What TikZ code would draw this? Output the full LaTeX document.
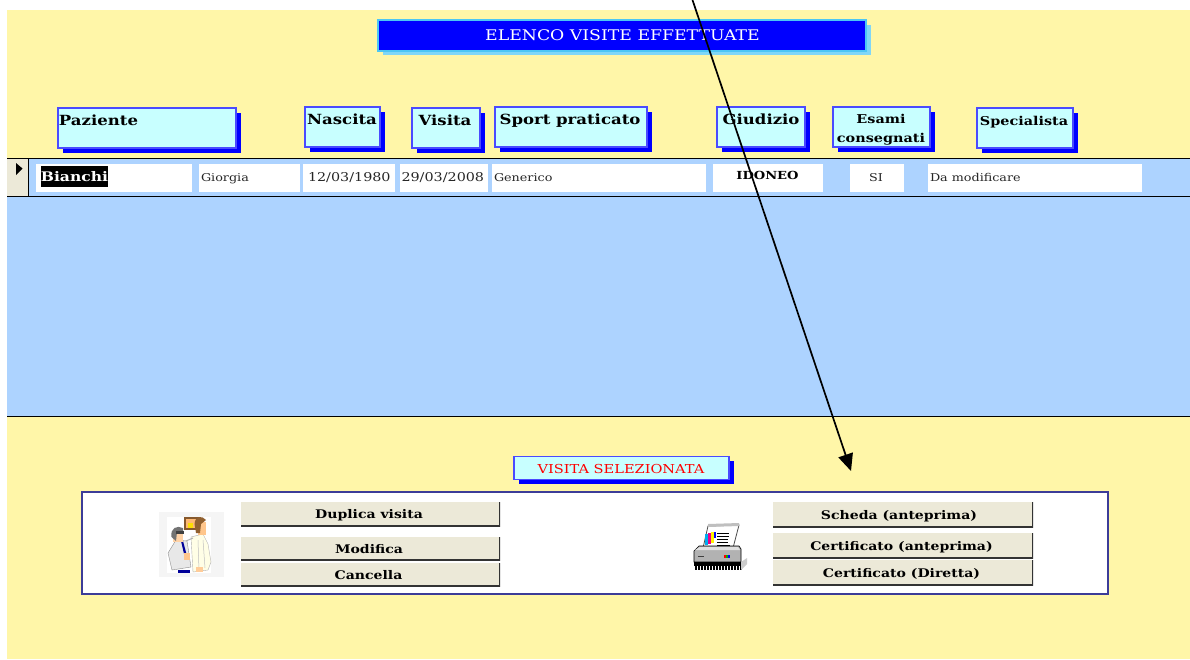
\documentclass[tikz,border=0pt]{standalone}
\usepackage{fontspec}
\setmainfont{DejaVu Serif}[FakeStretch=1.18]
\usetikzlibrary{arrows.meta}
\definecolor{bgyellow}{HTML}{FFF6A8}
\definecolor{rowblue}{HTML}{ADD3FF}
\definecolor{hdrfill}{HTML}{C8FFFF}
\definecolor{hdrline}{HTML}{4A4AFF}
\definecolor{btnfill}{HTML}{ECE9D8}
\definecolor{panelline}{HTML}{3C3C98}
\tikzset{
  x=1pt,y=-1pt,
  every node/.style={inner sep=0pt,outer sep=0pt},
  area/.style={anchor=north west,draw=none},
  hdrbox/.style={anchor=north west,fill=hdrfill,draw=hdrline,line width=1.2pt},
  oneline/.style={text height=12pt,text depth=1.5pt},
  hdrtext/.style={font=\fontsize{14}{16}\selectfont\bfseries,text=black,align=center},
  celltext/.style={font=\fontsize{10.8}{12}\selectfont,text=black!85,oneline},
  cellbox/.style={anchor=north west,fill=white,minimum height=28pt},
  btn/.style={anchor=north west,fill=btnfill,minimum width=259pt,
    path picture={\draw[black!80,line width=3pt]
      (path picture bounding box.south west) -- (path picture bounding box.south east)
      -- (path picture bounding box.north east);}},
  btntext/.style={font=\fontsize{11.9}{13}\selectfont\bfseries,text=black,oneline},
  rule/.style={black,line width=1pt},
  callout/.style={black,line width=1.7pt,-{Triangle[length=17pt,width=15pt]}},
}
\newcommand{\hdrcell}[6]{%
  \fill[#6] (#2+4.5,#3+4.5) rectangle (#4+4.5,#5+4.5);
  \node[hdrbox,minimum width=#4-#2,minimum height=#5-#3] (#1) at (#2,#3) {};
}
\begin{document}
\begin{tikzpicture}
\useasboundingbox (0,0) rectangle (1190,659);
\fill[white] (0,0) rectangle (1190,659);
\node[area,fill=bgyellow,minimum width=1183pt,minimum height=649pt] (page) at (7,10) {};
% list area
\node[area,fill=rowblue,minimum width=1183pt,minimum height=258pt] (list) at (7,158) {};
\node[area,fill=btnfill,minimum width=21pt,minimum height=38pt] (selector) at (7,158) {};
\coordinate (rowL) at (7,196); \coordinate (rowR) at (1190,196);
\coordinate (topL) at (7,158); \coordinate (topR) at (1190,158);
\coordinate (botL) at (7,416); \coordinate (botR) at (1190,416);
\draw[rule] (topL) -- (topR);
\draw[rule] (rowL) -- (rowR);
\draw[rule] (botL) -- (botR);
\draw[rule] (selector.north east) -- (selector.south east);
\fill[black] (16,163) -- (22.5,168.5) -- (16,175) -- cycle;
% title
\fill[cyan!50!white] (382.5,24.5) rectangle (870.5,54.5);
\node[hdrbox,fill=blue,draw=cyan!70!white,minimum width=488pt,minimum height=31pt] (title) at (378,20) {};
\node[text=white,font=\fontsize{14.65}{16}\selectfont,oneline] (titletext) at (622.5,35) {ELENCO VISITE EFFETTUATE};
% column headings
\hdrcell{hPaz}{58}{108}{236}{148}{blue}
\hdrcell{hNas}{305}{107}{380}{147}{blue}
\hdrcell{hVis}{412}{108}{480}{148}{blue}
\hdrcell{hSpo}{495}{107}{647}{147}{blue}
\hdrcell{hGiu}{717}{107}{805}{147}{blue}
\hdrcell{hEsa}{833}{107}{930}{147}{blue}
\hdrcell{hSpe}{977}{108}{1073}{148}{blue}
\node[hdrtext,oneline] (tPaz) at (98.5,120) {Paziente};
\node[hdrtext,oneline] (tNas) at (342,119) {Nascita};
\node[hdrtext,oneline] (tVis) at (445,120) {Visita};
\node[hdrtext,oneline] (tSpo) at (570,119) {Sport praticato};
\node[hdrtext,oneline] (tGiu) at (761,119) {Giudizio};
\node[hdrtext,font=\fontsize{12.2}{19}\selectfont\bfseries] (tEsa) at (881,129.5) {Esami\\consegnati};
\node[hdrtext,oneline,font=\fontsize{12.2}{14}\selectfont\bfseries] (tSpe) at (1024,120) {Specialista};
% row cells
\node[cellbox,minimum width=156pt] (c1) at (36,164) {};
\node[cellbox,minimum width=101pt] (c2) at (199,164) {};
\node[cellbox,minimum width=92pt] (c3) at (303,164) {};
\node[cellbox,minimum width=88pt] (c4) at (400,164) {};
\node[cellbox,minimum width=214pt] (c5) at (492,164) {};
\node[cellbox,minimum width=110pt] (c6) at (713,164) {};
\node[cellbox,minimum width=54pt] (c7) at (850,164) {};
\node[cellbox,minimum width=214pt] (c8) at (928,164) {};
\node[anchor=north west,fill=black,minimum width=67pt,minimum height=21pt] (sel) at (41,166) {};
\node[text=white,font=\fontsize{13.2}{15}\selectfont\bfseries,oneline] (tc1) at (sel.center) {Bianchi};
\node[celltext,anchor=west] (tc2) at (201,176) {Giorgia};
\node[celltext,anchor=west,font=\fontsize{12.15}{13}\selectfont] (tc3) at (308,176) {12/03/1980};
\node[celltext,anchor=west,font=\fontsize{12.15}{13}\selectfont] (tc4) at (401.5,176) {29/03/2008};
\node[celltext,anchor=west] (tc5) at (494,176) {Generico};
\node[font=\fontsize{11.1}{14}\selectfont\bfseries,oneline] (tc6) at (767.5,174) {IDONEO};
\node[celltext] (tc7) at (876,176) {SI};
\node[celltext,anchor=west] (tc8) at (930,176) {Da modificare};
% section label
\fill[blue] (518.5,460.5) rectangle (733.5,484);
\node[hdrbox,minimum width=215pt,minimum height=23pt] (sec) at (514,456.5) {};
\node[text=red,font=\fontsize{12.35}{15}\selectfont,oneline] (sectext) at (621,468.5) {VISITA SELEZIONATA};
% button panel
\node[anchor=north west,fill=white,draw=panelline,line width=1.2pt,minimum width=1026pt,minimum height=102pt] (panel) at (82,492) {};
\node[btn,minimum height=24pt] (b1) at (241,502) {};
\node[btn,minimum height=23pt] (b2) at (241,537) {};
\node[btn,minimum height=23pt] (b3) at (241,563) {};
\node[btn,minimum width=260pt,minimum height=25pt] (b4) at (773,502) {};
\node[btn,minimum width=260pt,minimum height=25pt] (b5) at (773,533) {};
\node[btn,minimum width=260pt,minimum height=25pt] (b6) at (773,560) {};
\node[btntext] (tb1) at (369,513) {Duplica visita};
\node[btntext] (tb2) at (369,548.5) {Modifica};
\node[btntext] (tb3) at (368.5,574.5) {Cancella};
\node[btntext] (tb4) at (899,514.5) {Scheda (anteprima)};
\node[btntext] (tb5) at (901.5,545.5) {Certificato (anteprima)};
\node[btntext] (tb6) at (901.5,572.5) {Certificato (Diretta)};
% doctors icon
\fill[black!4] (159,512) rectangle (224,577);
\fill[white] (167,517) rectangle (211,573);
\fill[brown!70!black] (184,517) rectangle (201,530);
\fill[orange!55!white] (186,519) rectangle (197,528);
\fill[yellow!80!orange] (188,523) rectangle (193,528);
% right man
\fill[yellow!10!white,draw=black!30,line width=0.4pt] (191,537) -- (203,534) -- (208,544) -- (211,562) -- (208,570) -- (193,572) -- cycle;
\draw[black!25,line width=0.5pt] (198,540) -- (199,571) (203,540) -- (205,568);
\fill[orange!45!white] (198,522) rectangle (206,535);
\fill[brown!75!black] (194.5,524) .. controls (195,516) and (202,515) .. (206,520) -- (201,524) -- (200,533) -- (196,533) -- cycle;
\fill[orange!40!white] (196,567) rectangle (203,572);
% left man
\fill[black!9,draw=black!45,line width=0.4pt] (176,540) -- (187,541) -- (191,567) -- (172,570) -- (168,553) -- cycle;
\fill[blue!60!black] (181,541) -- (183,541) -- (187,556) -- (185,558) -- cycle;
\fill[blue!60!black] (178,570) rectangle (190,573);
\fill[orange!35!white] (173,531) rectangle (183,542);
\fill[black!55] (171.5,537) .. controls (170,528) and (177,525) .. (183,528) -- (183,532) -- (177,532) -- (176,541) -- cycle;
\fill[black!75] (176,531) rectangle (184,534);
\fill[orange!45!white] (184,553) rectangle (190,560);
\draw[black!30,line width=1pt] (186,541) -- (193,538);
% printer icon
\fill[white,draw=black!70,line width=0.8pt] (708,526) -- (739,525) -- (733,548) -- (703,548) -- cycle;
\fill[black!25] (708,524) -- (739,523) -- (739,526) -- (708,527) -- cycle;
\fill[cyan] (705,534) rectangle (708,545);
\fill[magenta] (708,533) rectangle (711,544);
\fill[yellow] (711,532) rectangle (714,543);
\fill[blue] (714,532) rectangle (716,538);
\foreach \yy/\xe in {533/729,536/729,539/728,542/728,545/730} {
  \draw[black,line width=0.9pt] (717,\yy) -- (\xe,\yy);
}
\fill[black!30,draw=black,line width=0.6pt] (694,551) -- (699,546) -- (739,546) -- (741,549) -- (741,562) -- (694,562) -- cycle;
\fill[black!12] (695,550) -- (700,547) -- (738,547) -- (740,550) -- cycle;
\fill[black!75] (698,556) rectangle (704,557);
\fill[red] (724,555) rectangle (726,558);
\fill[green!70!black] (726,555) rectangle (728,558);
\fill[blue] (728,555) rectangle (730,558);
\fill[black] (694,562) rectangle (741,566);
\foreach \xx in {695,698,...,740} { \fill[black] (\xx,566) rectangle (\xx+1.6,570); }
\fill[black!20] (741,562) -- (747,558) -- (747,564) -- (741,570) -- cycle;
% connector
\coordinate (arrowstart) at (692.5,0);
\coordinate (arrowend) at (851,471);
\draw[callout] (arrowstart) -- (arrowend);
\end{tikzpicture}
\end{document}
